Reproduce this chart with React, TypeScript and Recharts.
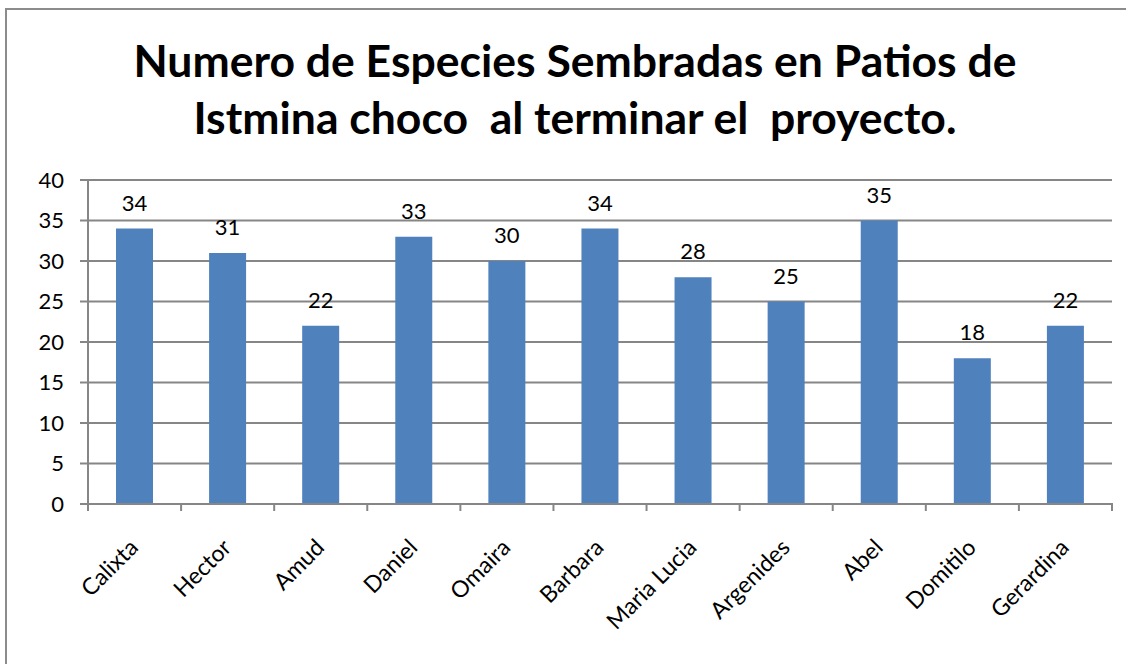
import React from 'react';
import { BarChart, Bar, XAxis, YAxis, CartesianGrid, LabelList } from 'recharts';

const titleLines = ['Numero de Especies Sembradas en Patios de', 'Istmina choco  al terminar el  proyecto.'];
const names = ['Calixta', 'Hector', 'Amud', 'Daniel', 'Omaira', 'Barbara', 'Maria Lucia', 'Argenides', 'Abel', 'Domitilo', 'Gerardina'];
const especies = [34, 31, 22, 33, 30, 34, 28, 25, 35, 18, 22];
const yTicks = [0, 5, 10, 15, 20, 25, 30, 35, 40];

const data = names.map((name, i) => ({ name, especies: especies[i] }));

const FONT = 'Lato, "Open Sans", sans-serif';
const AXIS = '#868686';
const CHART_W = 1126;
const CHART_H = 664;
const X_HEIGHT = 160;
const Y_WIDTH = 60;
const MARGIN = { top: 180, right: 14, bottom: 0, left: 28 };
const bandWidth = (CHART_W - MARGIN.left - MARGIN.right - Y_WIDTH) / names.length;

// Excel style: ticks sit between categories, labels slanted
const CategoryTick = ({ x, y, payload, index }: any) => {
  const left = x - bandWidth / 2;
  const ax = x + 5;
  const ay = y + 45;
  return (
    <g>
      <line x1={left} y1={y - 1} x2={left} y2={y + 7} stroke={AXIS} strokeWidth={2} />
      {index === names.length - 1 && (
        <line x1={left + bandWidth} y1={y - 1} x2={left + bandWidth} y2={y + 7} stroke={AXIS} strokeWidth={2} />
      )}
      <text
        x={ax}
        y={ay}
        textAnchor="end"
        transform={`rotate(-45, ${ax}, ${ay})`}
        fill="#000"
        fontSize={23}
        fontFamily={FONT}
      >
        {payload.value}
      </text>
    </g>
  );
};

const App: React.FC = () => {
  return (
    <div style={{ position: 'absolute', left: 0, top: 0, width: CHART_W, height: CHART_H, background: '#fff', overflow: 'hidden' }}>
      <div
        style={{
          position: 'absolute',
          left: 5,
          top: 8,
          width: CHART_W + 20,
          height: CHART_H + 20,
          border: '2px solid #8c8c8c',
        }}
      />
      <div
        style={{
          position: 'absolute',
          left: 0,
          top: 31,
          width: 1150,
          textAlign: 'center',
          fontFamily: FONT,
          fontWeight: 700,
          fontSize: 44.5,
          lineHeight: '57px',
          color: '#000',
          whiteSpace: 'pre',
        }}
      >
        {titleLines.map((t) => (
          <div key={t}>{t}</div>
        ))}
      </div>
      <div style={{ position: 'absolute', left: 0, top: 0 }}>
        <BarChart width={CHART_W} height={CHART_H} data={data} margin={MARGIN} barSize={37}>
          <CartesianGrid vertical={false} stroke={AXIS} strokeWidth={2} />
          <XAxis
            dataKey="name"
            interval={0}
            stroke={AXIS}
            strokeWidth={2}
            tickLine={false}
            tickSize={0}
            tickMargin={0}
            tick={<CategoryTick />}
            height={X_HEIGHT}
          />
          <YAxis
            domain={[0, 40]}
            ticks={yTicks}
            interval={0}
            width={Y_WIDTH}
            stroke={AXIS}
            strokeWidth={2}
            tickSize={8}
            tickMargin={16}
            tick={{ fill: '#000', fontSize: 22, fontFamily: FONT }}
          />
          <Bar dataKey="especies" fill="#4F81BD" isAnimationActive={false}>
            <LabelList dataKey="especies" position="top" offset={18} fill="#000" fontSize={22} fontFamily={FONT} />
          </Bar>
        </BarChart>
      </div>
    </div>
  );
};

export default App;
